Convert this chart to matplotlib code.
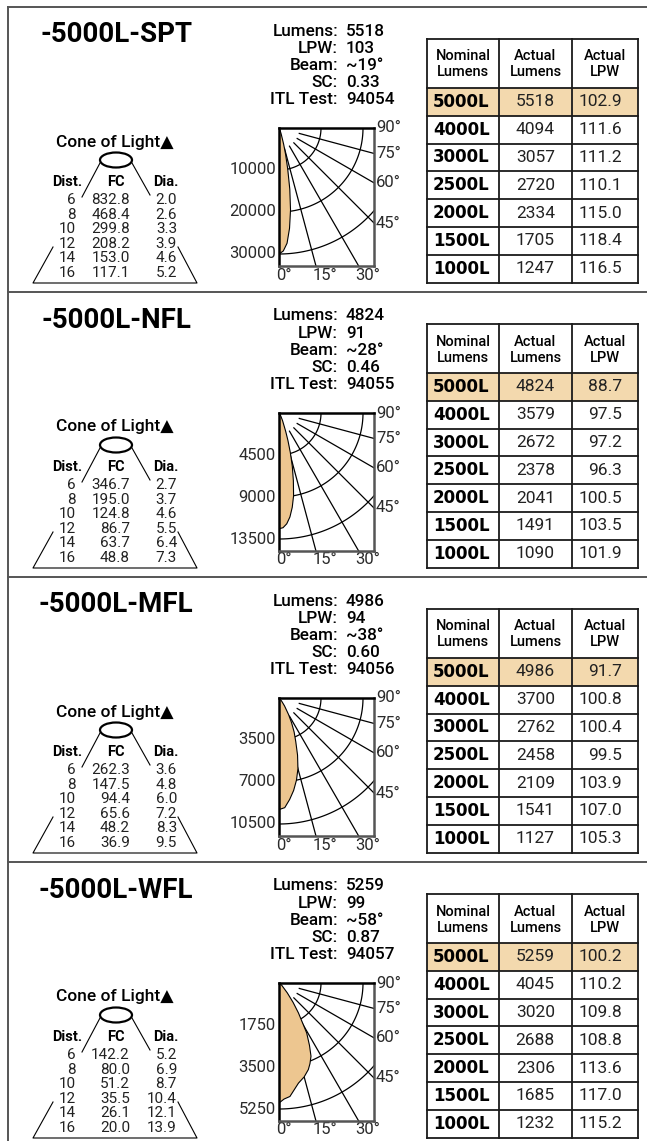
import numpy as np
import matplotlib
matplotlib.use('Agg')
import matplotlib.pyplot as plt
from matplotlib.patches import Ellipse, Rectangle
from matplotlib.transforms import Bbox, TransformedBbox

# ---------------- data ----------------
models = ['-5000L-SPT', '-5000L-NFL', '-5000L-MFL', '-5000L-WFL']
spec_lumens = ['5518', '4824', '4986', '5259']
spec_lpw = ['103', '91', '94', '99']
spec_beam = ['~19°', '~28°', '~38°', '~58°']
spec_sc = ['0.33', '0.46', '0.60', '0.87']
spec_itl = ['94054', '94055', '94056', '94057']

cone_dist = [6, 8, 10, 12, 14, 16]
cone_fc_spt = ['832.8', '468.4', '299.8', '208.2', '153.0', '117.1']
cone_fc_nfl = ['346.7', '195.0', '124.8', '86.7', '63.7', '48.8']
cone_fc_mfl = ['262.3', '147.5', '94.4', '65.6', '48.2', '36.9']
cone_fc_wfl = ['142.2', '80.0', '51.2', '35.5', '26.1', '20.0']
cone_dia_spt = ['2.0', '2.6', '3.3', '3.9', '4.6', '5.2']
cone_dia_nfl = ['2.7', '3.7', '4.6', '5.5', '6.4', '7.3']
cone_dia_mfl = ['3.6', '4.8', '6.0', '7.2', '8.3', '9.5']
cone_dia_wfl = ['5.2', '6.9', '8.7', '10.4', '12.1', '13.9']
cone_fc = [cone_fc_spt, cone_fc_nfl, cone_fc_mfl, cone_fc_wfl]
cone_dia = [cone_dia_spt, cone_dia_nfl, cone_dia_mfl, cone_dia_wfl]

nominal = ['5000L', '4000L', '3000L', '2500L', '2000L', '1500L', '1000L']
lumens_spt = ['5518', '4094', '3057', '2720', '2334', '1705', '1247']
lumens_nfl = ['4824', '3579', '2672', '2378', '2041', '1491', '1090']
lumens_mfl = ['4986', '3700', '2762', '2458', '2109', '1541', '1127']
lumens_wfl = ['5259', '4045', '3020', '2688', '2306', '1685', '1232']
lpw_spt = ['102.9', '111.6', '111.2', '110.1', '115.0', '118.4', '116.5']
lpw_nfl = ['88.7', '97.5', '97.2', '96.3', '100.5', '103.5', '101.9']
lpw_mfl = ['91.7', '100.8', '100.4', '99.5', '103.9', '107.0', '105.3']
lpw_wfl = ['100.2', '110.2', '109.8', '108.8', '113.6', '117.0', '115.2']
actual_lumens = [lumens_spt, lumens_nfl, lumens_mfl, lumens_wfl]
actual_lpw = [lpw_spt, lpw_nfl, lpw_mfl, lpw_wfl]

ring_step = [10000, 4500, 3500, 1750]
ring_labels = [['10000', '20000', '30000'], ['4500', '9000', '13500'],
               ['3500', '7000', '10500'], ['1750', '3500', '5250']]
angle_labels_bottom = ['0°', '15°', '30°']
angle_labels_right = ['90°', '75°', '60°', '45°']

cd_ang_spt = [0, 2, 4, 6, 8, 10, 12, 14, 16, 20, 25, 30, 40, 90]
cd_val_spt = [30000, 29300, 27500, 24000, 19700, 14800, 10000, 6500, 4000, 1500, 600, 300, 100, 0]
cd_ang_nfl = [0, 2, 4, 6, 8, 10, 12, 14, 16, 18, 20, 25, 30, 40, 90]
cd_val_nfl = [12400, 12300, 11900, 11200, 10200, 9000, 7400, 5900, 4400, 3100, 2100, 900, 400, 150, 0]
cd_ang_mfl = [0, 3, 6, 9, 12, 15, 18, 21, 24, 27, 30, 35, 40, 50, 90]
cd_val_mfl = [9300, 9150, 8500, 7800, 7000, 6100, 5000, 3900, 3100, 2300, 1600, 800, 350, 100, 0]
cd_ang_wfl = [0, 2.5, 5.5, 11, 15, 18.7, 21, 23.6, 26, 29, 33, 36, 40, 50, 90]
cd_val_wfl = [5000, 4840, 4750, 4250, 4050, 3810, 3600, 3330, 2900, 2380, 1490, 1000, 540, 150, 0]
cd_angles = [cd_ang_spt, cd_ang_nfl, cd_ang_mfl, cd_ang_wfl]
cd_values = [cd_val_spt, cd_val_nfl, cd_val_mfl, cd_val_wfl]

# ---------------- style ----------------
FONT = ['Roboto', 'DejaVu Sans']
BOLDFONT = ['DejaVu Sans']
TAN = '#EDC690'
HILITE = '#F3D9AE'
W, H = 647, 1141
PANEL_TOP = [7, 292, 577, 862]

fig = plt.figure(figsize=(W / 100, H / 100), dpi=100)
cv = fig.add_axes([0, 0, 1, 1])
cv.set_xlim(0, W)
cv.set_ylim(H, 0)
cv.axis('off')

def txt(x, y, s, size, weight='normal', ha='left', va='center', color='black', family=None, **kw):
    return cv.text(x, y, s, fontsize=size, fontweight=weight, ha=ha, va=va,
                   color=color, family=family or FONT, **kw)

# frame lines
cv.plot([8, 8], [7, H], color='#555555', lw=1.4)
for T in PANEL_TOP:
    cv.plot([8, W], [T, T], color='#555555', lw=1.4)

for p in range(4):
    T = PANEL_TOP[p]
    # title
    txt(116, T + 28, models[p], 20, 'bold', ha='center')

    # specs
    labels = ['Lumens:', 'LPW:', 'Beam:', 'SC:', 'ITL Test:']
    vals = [spec_lumens[p], spec_lpw[p], spec_beam[p], spec_sc[p], spec_itl[p]]
    for i, (lab, v) in enumerate(zip(labels, vals)):
        y = T + 24 + 17.2 * i
        txt(338, y, lab, 12.3, 'medium', ha='right')
        txt(346, y, v, 12.3, 'medium', ha='left')

    # cone of light
    txt(115, T + 135, 'Cone of Light▲', 12.5, 'medium', ha='center')
    cv.add_patch(Ellipse((116, T + 153), 32, 15, fill=False, ec='black', lw=1.6))
    cv.plot([100, 82], [T + 156, T + 190], color='black', lw=0.8)
    cv.plot([132, 150], [T + 156, T + 188], color='black', lw=0.8)
    cv.plot([53, 33, 197, 178], [T + 240, T + 276, T + 276, T + 240], color='black', lw=0.8)
    txt(67, T + 175, 'Dist.', 10.5, 'bold', ha='center')
    txt(116, T + 175, 'FC', 10.5, 'bold', ha='center')
    txt(166, T + 175, 'Dia.', 10.5, 'bold', ha='center')
    for i in range(6):
        y = T + 193 + 14.6 * i
        txt(76, y, str(cone_dist[i]), 11, ha='right', color='#222222')
        txt(130, y, cone_fc[p][i], 11, ha='right', color='#222222')
        txt(177, y, cone_dia[p][i], 11, ha='right', color='#222222')

    # polar-style candela plot
    bx, by, bw, bh = 279, T + 121, 95, 138
    step = ring_step[p]
    s = step / 42.0
    pax = fig.add_axes([bx / W, 1 - (by + bh) / H, bw / W, bh / H])
    pax.set_xlim(0, bw * s)
    pax.set_ylim(-bh * s, 0)
    pax.set_xticks([])
    pax.set_yticks([])
    for side in ['top', 'left']:
        pax.spines[side].set_color('black')
        pax.spines[side].set_linewidth(1.8)
    for side in ['right', 'bottom']:
        pax.spines[side].set_color('#555555')
        pax.spines[side].set_linewidth(1.8)
    th = np.radians(np.linspace(0, 90, 91))
    for k in range(1, 4):
        r = k * step
        pax.plot(r * np.sin(th), -r * np.cos(th), color='black', lw=0.9, zorder=1)
    for a in [15, 30, 45, 60, 75]:
        ar = np.radians(a)
        rr = np.array([0.5 * step, 6 * step])
        pax.plot(rr * np.sin(ar), -rr * np.cos(ar), color='black', lw=0.9, zorder=1)
    ang = np.radians(np.array(cd_angles[p], dtype=float))
    cd = np.array(cd_values[p], dtype=float)
    xs = cd * np.sin(ang)
    ys = -cd * np.cos(ang)
    pax.fill(np.r_[xs, 0], np.r_[ys, ys[0]], facecolor=TAN, edgecolor='black', lw=0.8, zorder=2)

    clip = TransformedBbox(Bbox([[231, 0], [W, H]]), cv.transData)
    for k in range(3):
        t = txt(276, by + 42 * (k + 1), ring_labels[p][k], 12, 'normal', ha='right', color='#2a2a2a')
        t.set_clip_box(clip)
        t.set_clip_on(True)
    for i, a in enumerate([0, 15, 30]):
        x = bx + bh * np.tan(np.radians(a))
        txt(x - 3, by + bh + 9, angle_labels_bottom[i], 12, 'normal', ha='left', color='#2a2a2a')
    for i, a in enumerate([90, 75, 60, 45]):
        y = by + bw / np.tan(np.radians(a)) if a != 90 else by
        txt(bx + bw + 2, y, angle_labels_right[i], 12, 'normal', ha='left', color='#2a2a2a')

    # table
    cols = [427, 499, 572, 638]
    top = T + 32
    hdr = T + 81
    rh = 27.8
    bottom = hdr + rh * 7
    cv.add_patch(Rectangle((cols[0], hdr), cols[3] - cols[0], rh, facecolor=HILITE, edgecolor='none', zorder=0))
    for x in cols:
        cv.plot([x, x], [top, bottom], color='#1a1a1a', lw=1.3)
    cv.plot([cols[0], cols[3]], [top, top], color='#1a1a1a', lw=1.3)
    cv.plot([cols[0], cols[3]], [hdr, hdr], color='#1a1a1a', lw=1.3)
    for i in range(7):
        y = hdr + rh * (i + 1)
        cv.plot([cols[0], cols[3]], [y, y], color='#1a1a1a', lw=1.3)
    heads = [('Nominal', 'Lumens'), ('Actual', 'Lumens'), ('Actual', 'LPW')]
    for j, (h1, h2) in enumerate(heads):
        cx = (cols[j] + cols[j + 1]) / 2
        txt(cx, top + 17.5, h1, 10.5, 'medium', ha='center')
        txt(cx, top + 33.5, h2, 10.5, 'medium', ha='center')
    for i in range(7):
        y = hdr + rh * (i + 0.5)
        txt(433, y, nominal[i], 12, 'bold', ha='left', family=BOLDFONT)
        txt(555, y, actual_lumens[p][i], 12.5, ha='right', color='#222222')
        txt(622, y, actual_lpw[p][i], 12.5, ha='right', color='#222222')

fig.savefig('out.png', dpi=100)
